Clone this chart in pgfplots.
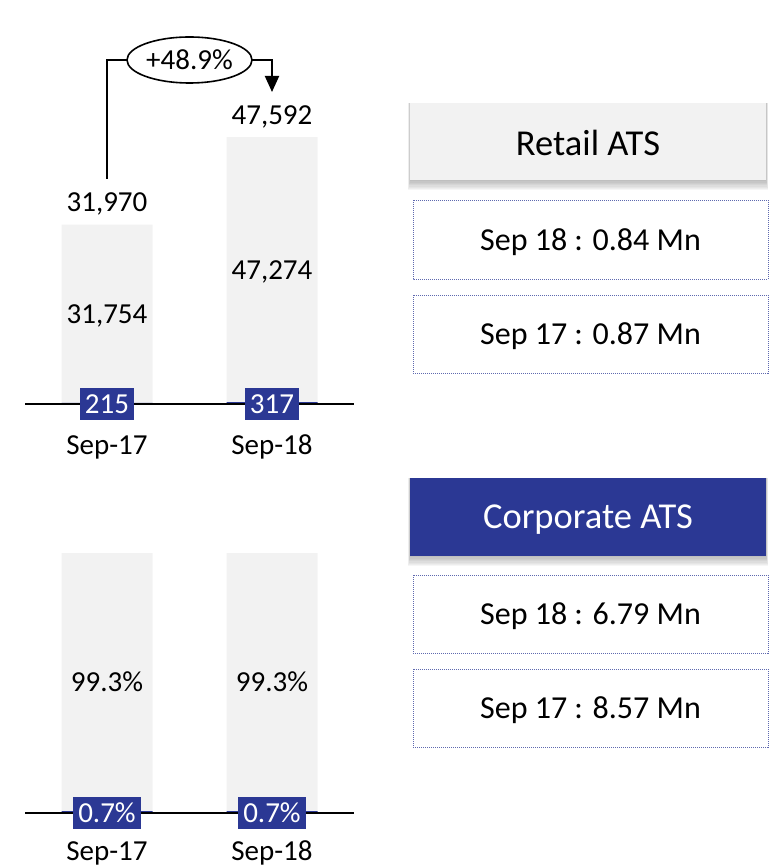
\documentclass[border=0pt]{standalone}
\usepackage{pgfplots}
\pgfplotsset{compat=1.18}
\usepackage{fontspec}
\setmainfont{Carlito}
\usetikzlibrary{shapes.geometric,arrows.meta}
\definecolor{navy}{RGB}{43,56,148}
\definecolor{barg}{RGB}{242,242,242}
\definecolor{dotc}{RGB}{95,105,175}
\newcommand\lbl{\fontsize{29}{34}\selectfont}
\newcommand\bxf{\fontsize{32}{38}\selectfont}
\newcommand\hdr{\fontsize{36.5}{42}\selectfont}
\pgfplotsset{
  mybars/.style={
    scale only axis, width=329pt, xmin=25, xmax=354, ymin=0,
    ybar stacked, bar width=91pt, clip=false,
    axis line style={draw=none}, major tick length=0pt,
    ytick=\empty, xtick={107,272}, xticklabels={Sep-17,Sep-18},
    xticklabel style={font=\lbl, anchor=base, yshift=-50pt},
    /pgf/number format/assume math mode=true,
    anchor=south west,
  }
}
\tikzset{
  navybox/.style={fill=navy, text=white, font=\lbl, inner xsep=5pt, inner ysep=0pt, minimum height=32pt},
  softshadow/.style={fill=black, opacity=0.035},
}
\begin{document}
\begin{tikzpicture}
\path[use as bounding box] (0pt,0pt) rectangle (776pt,-867pt);
% ---------- top chart: counts ----------
\begin{axis}[mybars, height=267pt, ymax=47592, at={(25pt,-404pt)}]
\addplot[fill=navy, draw=none] coordinates {(107,215) (272,317)};
\addplot[fill=barg, draw=none] coordinates {(107,31754) (272,47274)};
\coordinate (b1) at (axis cs:107,0);
\coordinate (b2) at (axis cs:272,0);
\coordinate (m1) at (axis cs:107,16092);
\coordinate (m2) at (axis cs:272,23954);
\coordinate (t1) at (axis cs:107,31970);
\coordinate (t2) at (axis cs:272,47592);
\coordinate (l0) at (axis cs:25,0);
\coordinate (l1) at (axis cs:354,0);
\coordinate (a0) at (axis cs:107,40106);
\coordinate (aw) at (axis cs:127,61318);
\coordinate (ac) at (axis cs:189.5,61318);
\coordinate (ae) at (axis cs:252,61318);
\coordinate (a1) at (axis cs:272,55614);
\end{axis}
\draw[line width=1.3pt] (l0) -- (l1);
\node[navybox] at (b1) {215};
\node[navybox] at (b2) {317};
\node[font=\lbl, anchor=base] at ([yshift=-9.5pt]m1) {31,754};
\node[font=\lbl, anchor=base] at ([yshift=-9.5pt]m2) {47,274};
\node[font=\lbl, anchor=base] at ([yshift=13pt]t1) {31,970};
\node[font=\lbl, anchor=base] at ([yshift=13pt]t2) {47,592};
\draw[line width=2pt] (a0) |- (aw);
\draw[line width=2pt, -{Triangle[width=14pt,length=16pt]}] (ae) -| (a1);
\node[ellipse, draw, fill=white, line width=1.6pt, minimum width=125pt, minimum height=46pt, inner sep=0pt, font=\lbl] at (ac) {+48.9\%};
% ---------- bottom chart: shares ----------
\begin{axis}[mybars, height=260pt, ymax=100, at={(25pt,-813pt)}, xticklabel style={yshift=3pt}]
\addplot[fill=navy, draw=none] coordinates {(107,0.7) (272,0.7)};
\addplot[fill=barg, draw=none] coordinates {(107,99.3) (272,99.3)};
\coordinate (c1) at (axis cs:107,0);
\coordinate (c2) at (axis cs:272,0);
\coordinate (n1) at (axis cs:107,50.35);
\coordinate (n2) at (axis cs:272,50.35);
\coordinate (k0) at (axis cs:25,0);
\coordinate (k1) at (axis cs:354,0);
\end{axis}
\draw[line width=1.3pt] (k0) -- (k1);
\node[navybox] at (c1) {0.7\%};
\node[navybox] at (c2) {0.7\%};
\node[font=\lbl, anchor=base] at ([yshift=-9.5pt]n1) {99.3\%};
\node[font=\lbl, anchor=base] at ([yshift=-9.5pt]n2) {99.3\%};
% ---------- right side panels ----------
\foreach \d in {1,2,3,4,5,6,7,8} {
  \fill[softshadow] (410pt-\d*0.25pt,-103pt) rectangle (766pt+\d*0.25pt,-180pt-\d*1.3pt);
  \fill[softshadow] (410pt-\d*0.25pt,-478pt) rectangle (766pt+\d*0.25pt,-556pt-\d*1.3pt);
}
\fill[barg] (410pt,-103pt) rectangle (766pt,-180pt);
\node[font=\hdr, anchor=base] at (588pt,-155pt) {Retail ATS};
\draw[dotc, densely dotted, line width=1pt] (413pt,-200pt) rectangle (768pt,-279pt);
\node[font=\bxf, anchor=base] at (590.5pt,-250pt) {Sep 18 : 0.84 Mn};
\draw[dotc, densely dotted, line width=1pt] (413pt,-295pt) rectangle (768pt,-373pt);
\node[font=\bxf, anchor=base] at (590.5pt,-344.5pt) {Sep 17 : 0.87 Mn};
\fill[navy] (410pt,-478pt) rectangle (766pt,-556pt);
\node[font=\hdr, anchor=base, text=white] at (588pt,-528.5pt) {Corporate ATS};
\draw[dotc, densely dotted, line width=1pt] (413pt,-575pt) rectangle (768pt,-653pt);
\node[font=\bxf, anchor=base] at (590.5pt,-624.5pt) {Sep 18 : 6.79 Mn};
\draw[dotc, densely dotted, line width=1pt] (413pt,-669pt) rectangle (768pt,-747pt);
\node[font=\bxf, anchor=base] at (590.5pt,-718.5pt) {Sep 17 : 8.57 Mn};
\end{tikzpicture}
\end{document}
